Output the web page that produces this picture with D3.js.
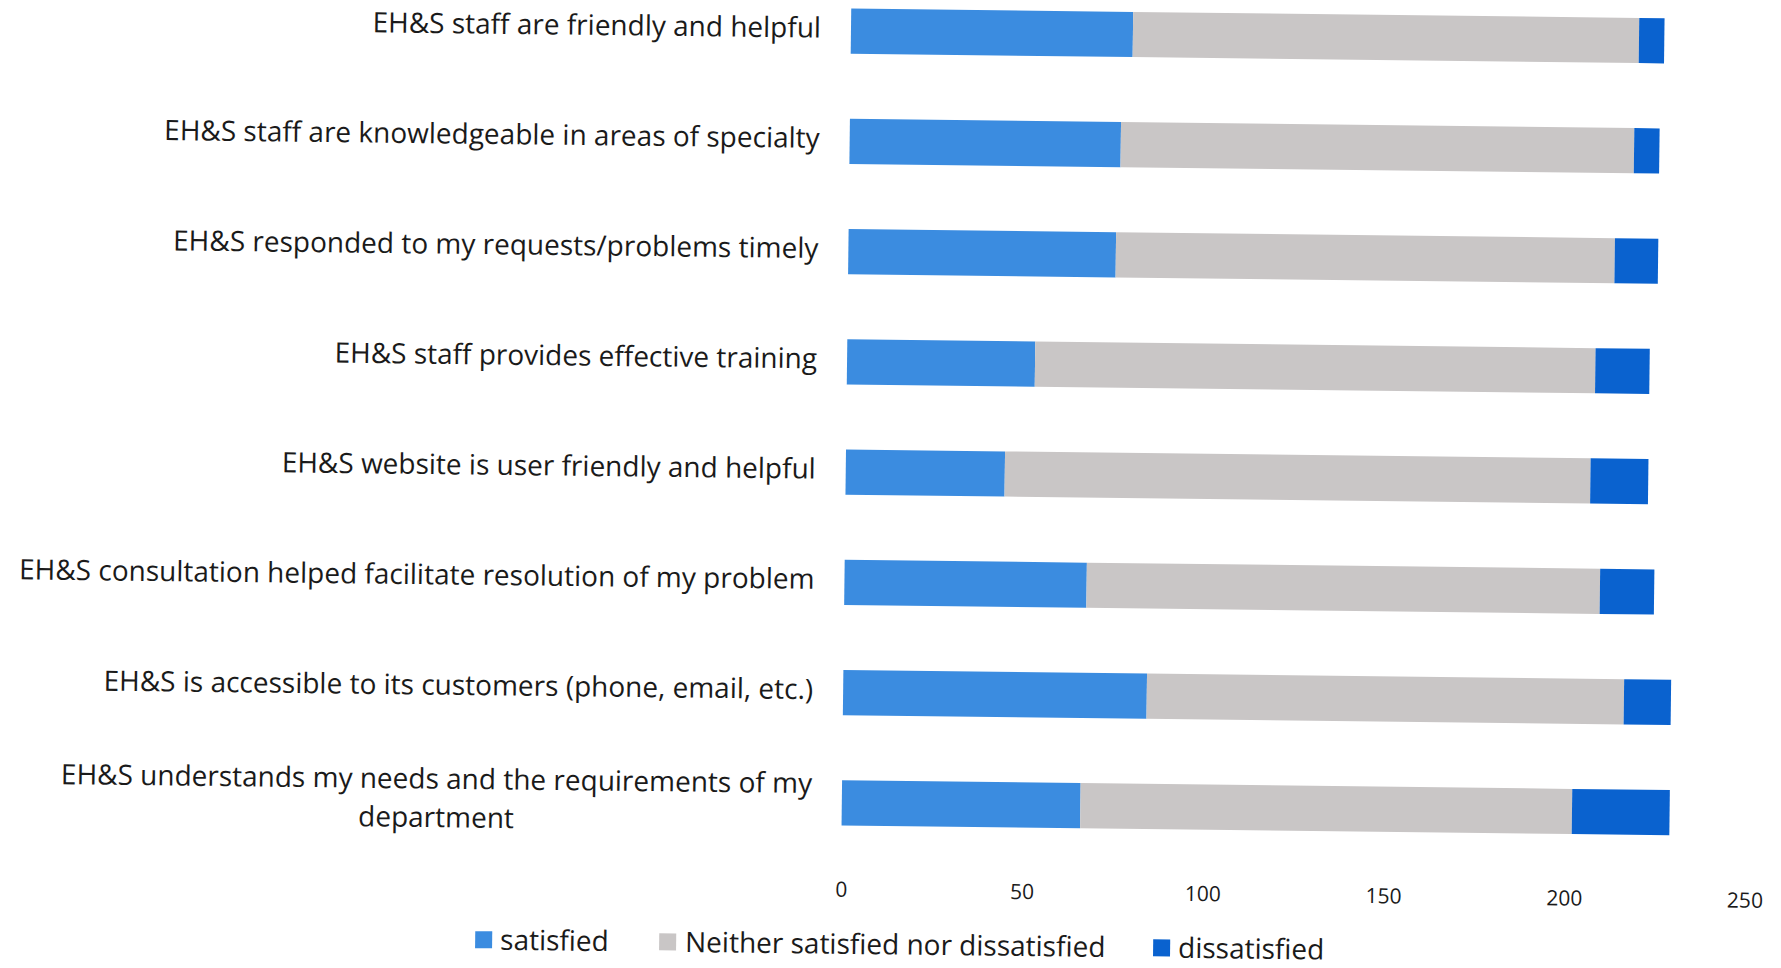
<!DOCTYPE html>
<html>
<head>
<meta charset="utf-8">
<script src="https://cdn.jsdelivr.net/npm/d3@7"></script>
<style>
  html, body { margin: 0; padding: 0; background: #ffffff; }
  svg { display: block; }
</style>
</head>
<body>
<svg id="chart" width="1781" height="968"></svg>
<script>
// ---- data ----
const categories = [
  "EH&S staff are friendly and helpful",
  "EH&S staff are knowledgeable in areas of specialty",
  "EH&S responded to my requests/problems timely",
  "EH&S staff provides effective training",
  "EH&S website is user friendly and helpful",
  "EH&S consultation helped facilitate resolution of my problem",
  "EH&S is accessible to its customers (phone, email, etc.)",
  "EH&S understands my needs and the requirements of my department"
];
const satisfied    = [78, 75, 74, 52, 44, 67, 84, 66];
const neither      = [140, 142, 138, 155, 162, 142, 132, 136];
const dissatisfied = [7, 7, 12, 15, 16, 15, 13, 27];
const seriesNames  = ["satisfied", "Neither satisfied nor dissatisfied", "dissatisfied"];
const xTicks       = [0, 50, 100, 150, 200, 250];

// ---- styles ----
const colors = ["#3b8ce0", "#c9c6c6", "#0a62cf"];
const labelFont = "'Open Sans', 'Liberation Sans', sans-serif";
const labelSize = 28;

const svg = d3.select("#chart");
// scanned page is slightly rotated clockwise
const g = svg.append("g").attr("transform", "rotate(0.68, 846, 450)");

const x = d3.scaleLinear().domain([0, 250]).range([846, 846 + 250 * 3.615]);
const y = d3.scaleBand().domain(categories).range([-24, 858]).paddingInner(0.59).paddingOuter(0.295);

const rows = categories.map((c, i) => ({ cat: c, satisfied: satisfied[i], neither: neither[i], dissatisfied: dissatisfied[i] }));
const stack = d3.stack().keys(["satisfied", "neither", "dissatisfied"])(rows);

g.selectAll("g.series").data(stack).join("g")
  .attr("class", "series")
  .attr("fill", (d, i) => colors[i])
  .selectAll("rect").data(d => d).join("rect")
  .attr("x", d => x(d[0]))
  .attr("width", d => x(d[1]) - x(d[0]))
  .attr("y", d => y(d.data.cat))
  .attr("height", y.bandwidth());

// category labels
const labelRight = 816;
const maxW = 830;
function measure(s) {
  const p = g.append("text").attr("font-family", labelFont).attr("font-size", labelSize).text(s);
  const w = p.node().getComputedTextLength();
  p.remove();
  return w;
}
categories.forEach(c => {
  const words = c.split(" ");
  const lines = [];
  let line = [];
  words.forEach(w => {
    const trial = line.concat([w]).join(" ");
    if (measure(trial) > maxW && line.length) {
      lines.push(line.join(" "));
      line = [w];
    } else line.push(w);
  });
  lines.push(line.join(" "));
  const mid = y(c) + y.bandwidth() / 2;
  if (lines.length === 1) {
    g.append("text")
      .attr("font-family", labelFont).attr("font-size", labelSize).attr("fill", "#1a1a1a")
      .attr("x", labelRight).attr("y", mid - 3).attr("dy", "0.35em")
      .attr("text-anchor", "end").text(lines[0]);
  } else {
    const lh = 38.5;
    const mw = d3.max(lines, measure);
    const cx = labelRight - mw / 2;
    lines.forEach((l, k) => {
      g.append("text")
        .attr("font-family", labelFont).attr("font-size", labelSize).attr("fill", "#1a1a1a")
        .attr("text-anchor", "middle")
        .attr("x", cx)
        .attr("y", mid + (k - (lines.length - 1) / 2) * lh)
        .attr("dy", "0.35em").text(l);
    });
  }
});

// x axis (labels only)
const axis = g.append("g").attr("transform", "translate(0, 882)")
  .call(d3.axisBottom(x).tickValues(xTicks).tickSize(0).tickPadding(0));
axis.select(".domain").remove();
axis.selectAll("text")
  .attr("font-family", labelFont)
  .attr("font-size", 21)
  .attr("fill", "#1a1a1a")
  .attr("dy", "0.71em");

// legend
const legendPos = [ {m: 481, t: 506}, {m: 665, t: 691}, {m: 1159, t: 1184} ];
const legendY = 944;
const leg = g.append("g");
seriesNames.forEach((n, i) => {
  leg.append("rect").attr("x", legendPos[i].m).attr("y", legendY - 8.5)
    .attr("width", 17).attr("height", 17).attr("fill", colors[i]);
  leg.append("text").attr("x", legendPos[i].t).attr("y", legendY).attr("dy", "0.35em")
    .attr("font-family", labelFont).attr("font-size", 28).attr("fill", "#1a1a1a").text(n);
});
</script>
</body>
</html>
